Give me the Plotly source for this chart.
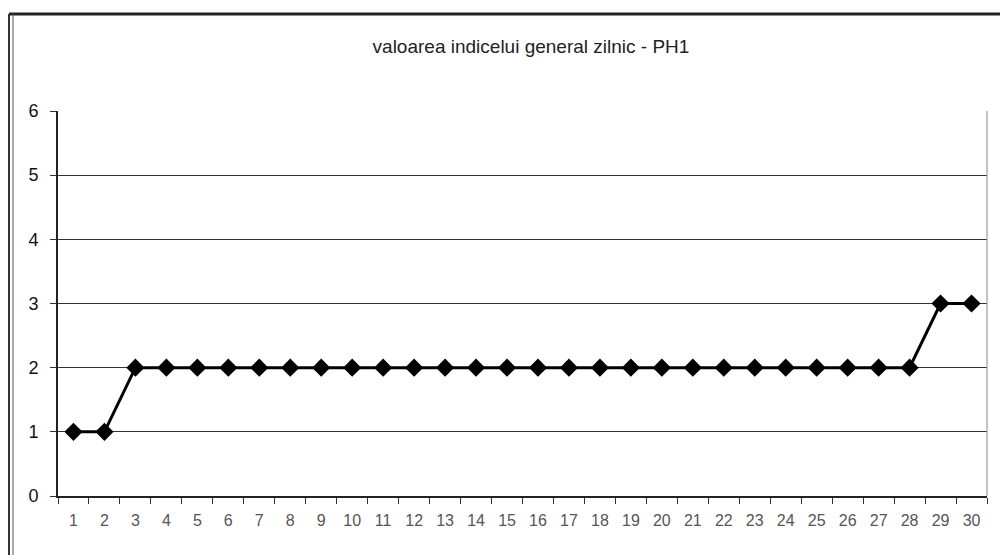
import plotly.graph_objects as go

days = list(range(1, 31))
values = [1, 1] + [2] * 26 + [3, 3]
title_text = "valoarea indicelui general zilnic - PH1"
y_ticks = [0, 1, 2, 3, 4, 5, 6]

W, H = 1000, 555
L, R, T, B = 58, 13, 111, 59
pw = W - L - R
ph = H - T - B

def px_x(p):
    return (p - L) / pw

def px_y(p):
    return 1 - (p - T) / ph

fig = go.Figure()
fig.add_trace(go.Scatter(
    x=days, y=values, mode="lines+markers",
    line=dict(color="black", width=3),
    marker=dict(symbol="diamond", size=14, color="black"),
    showlegend=False, cliponaxis=False,
))

shapes = [
    dict(type="line", xref="paper", yref="paper", x0=1, x1=1, y0=0, y1=1,
         line=dict(color="#888888", width=1)),
    dict(type="line", xref="paper", yref="paper", x0=px_x(9), x1=px_x(1000),
         y0=px_y(14), y1=px_y(14), line=dict(color="#222222", width=3)),
    dict(type="line", xref="paper", yref="paper", x0=px_x(9), x1=px_x(9),
         y0=px_y(14), y1=px_y(560), line=dict(color="#333333", width=2)),
    dict(type="line", xref="paper", yref="paper", x0=px_x(13), x1=px_x(13),
         y0=px_y(14), y1=px_y(560), line=dict(color="#555555", width=1)),
]

fig.update_layout(
    width=W, height=H,
    margin=dict(l=L, r=R, t=T, b=B, pad=0),
    paper_bgcolor="white", plot_bgcolor="white",
    font=dict(family="Liberation Sans, Arial, sans-serif", color="#222222"),
    title=dict(text=title_text, x=531 / W, xanchor="center",
               y=1 - 46 / H, yanchor="middle", yref="container",
               font=dict(size=19, color="#222222")),
    shapes=shapes,
    xaxis=dict(
        range=[0.5, 30.5], tickmode="array", tickvals=days,
        ticktext=[str(d) for d in days], ticks="",
        showgrid=False, zeroline=False, showline=True,
        linecolor="#222222", linewidth=2,
        tickfont=dict(size=16, color="#555555"),
        minor=dict(tick0=0.5, dtick=1, ticks="outside", ticklen=6,
                   tickcolor="#333333", showgrid=False),
        ticklabelstandoff=9,
    ),
    yaxis=dict(
        range=[0, 6], tickmode="array", tickvals=y_ticks,
        ticks="outside", ticklen=6, tickcolor="#333333",
        showgrid=True, gridcolor="#333333", gridwidth=1,
        zeroline=False, showline=True, linecolor="#222222", linewidth=2,
        tickfont=dict(size=18, color="#111111"),
        ticklabelstandoff=8,
    ),
)

fig.write_html("out.html", config={"displayModeBar": False},
               post_script="document.body.style.margin='0px';")
